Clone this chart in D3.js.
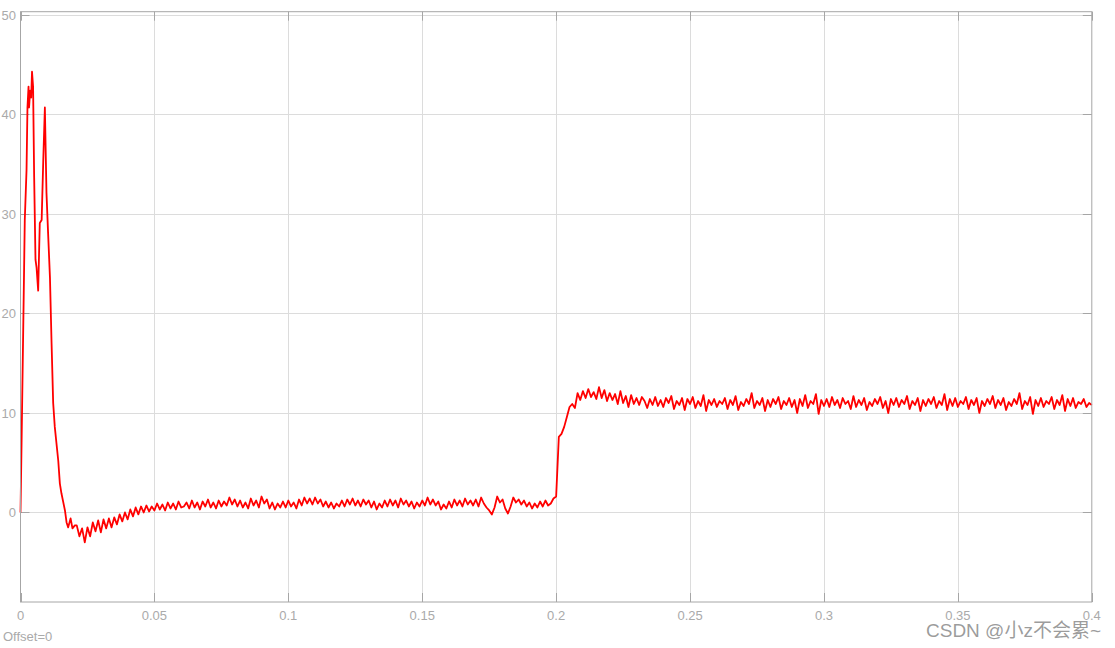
<!DOCTYPE html>
<html>
<head>
<meta charset="utf-8">
<script src="https://cdn.jsdelivr.net/npm/d3@7"></script>
<style>
  body { margin: 0; background: #fff; }
  svg { display: block; }
</style>
</head>
<body>
<svg id="chart"></svg>
<script>
// size of the page
var width = 1115;
var height = 648;

// axis ticks
var xTicks = [0, 0.05, 0.1, 0.15, 0.2, 0.25, 0.3, 0.35, 0.4];
var xTickLabels = ['0', '0.05', '0.1', '0.15', '0.2', '0.25', '0.3', '0.35', '0.4'];
var yTicks = [0, 10, 20, 30, 40, 50];
var yTickLabels = ['0', '10', '20', '30', '40', '50'];

// start-up transient
var startTimes = [0, 0.0004, 0.00135, 0.0016, 0.00225, 0.0026, 0.003, 0.0032, 0.0036, 0.004,
  0.0043, 0.0047, 0.0051, 0.0056, 0.006, 0.0066, 0.0072, 0.0079, 0.0085, 0.0091,
  0.0097, 0.0103, 0.011, 0.0116, 0.0122, 0.0128, 0.0141, 0.0147, 0.0153, 0.0166,
  0.0172, 0.0178, 0.0187, 0.0194, 0.0203];
var startValues = [0, 7, 24.6, 29.4, 34.4, 40.7, 42.8, 40.7, 42.4, 41.7,
  44.3, 42.8, 33.7, 25.4, 24.6, 22.3, 29.1, 29.4, 35.4, 40.7,
  32.1, 28.1, 23.6, 17, 11, 8.6, 5.2, 2.9, 1.9, 0.2,
  -1.0, -1.5, -0.6, -1.6, -1.3];

// the rest, one reading every millisecond from 0.021 s to 0.4 s
var rippleStart = 0.021;
var rippleStep = 0.001;
var rippleValues = [
  -1.3, -2.4, -1.6, -3.0, -1.5, -2.4, -1.0, -1.9, -0.8, -2.0,
  -0.7, -1.6, -0.6, -1.5, -0.5, -1.2, -0.2, -0.9, 0.0, -0.7,
  0.3, -0.4, 0.5, -0.2, 0.6, 0.0, 0.7, 0.1, 0.6, 0.2,
  0.9, 0.3, 0.8, 0.2, 1.0, 0.4, 0.9, 0.3, 1.1, 0.5,
  0.6, 1.0, 0.4, 1.2, 0.5, 1.0, 0.3, 1.1, 0.6, 1.3,
  0.5, 1.0, 0.4, 1.2, 0.6, 1.1, 0.7, 1.5, 0.8, 1.3,
  0.6, 1.2, 0.5, 1.0, 0.4, 1.4, 0.7, 1.2, 0.5, 1.6,
  0.9, 1.3, 0.4, 1.0, 0.3, 0.9, 0.5, 1.1, 0.5, 1.2,
  0.6, 1.0, 0.4, 1.3, 0.7, 1.5, 0.9, 1.4, 0.8, 1.5,
  0.9, 1.3, 0.6, 1.1, 0.5, 1.0, 0.4, 0.9, 0.6, 1.2,
  0.6, 1.3, 0.8, 1.4, 0.7, 1.2, 0.6, 1.3, 0.8, 1.2,
  0.5, 1.1, 0.3, 0.9, 0.5, 1.2, 0.6, 1.3, 0.7, 1.2,
  0.5, 1.4, 0.8, 1.2, 0.6, 1.1, 0.4, 1.0, 0.6, 1.2,
  0.7, 1.5, 0.8, 1.3, 0.7, 1.1, 0.3, 0.8, 0.4, 1.1,
  0.5, 1.3, 0.7, 1.2, 0.6, 1.4, 0.8, 1.2, 0.7, 1.3,
  0.6, 1.5, 0.9, 0.5, 0.2, -0.2, 0.5, 1.6, 1.0, 1.3,
  0.4, -0.1, 0.6, 1.5, 1.0, 1.3, 0.8, 1.2, 0.6, 1.0,
  0.4, 0.9, 0.5, 1.1, 0.6, 1.2, 0.7, 0.9, 1.4, 1.6,
  // 0.201 s: the step
  7.6, 7.9, 8.6, 9.6, 10.6, 10.9, 10.5, 12.0, 11.3, 12.2,
  11.5, 12.4, 11.6, 12.1, 11.4, 12.6, 11.5, 12.3, 11.2, 12.0,
  11.3, 11.9, 10.9, 12.2, 11.0, 11.7, 10.6, 11.8, 10.9, 11.5,
  10.8, 11.6, 11.2, 10.5, 11.4, 10.8, 11.6, 10.7, 11.3, 10.6,
  11.5, 11.0, 11.7, 10.4, 11.2, 10.8, 11.5, 10.3, 11.4, 10.9,
  11.6, 10.5, 11.2, 10.7, 11.8, 10.2, 11.3, 10.8, 11.4, 10.6,
  11.2, 10.9, 11.5, 10.4, 11.3, 10.8, 11.7, 10.3, 11.1, 10.7,
  11.4, 10.9, 12.0, 10.5, 11.2, 10.8, 11.5, 10.2, 11.3, 10.6,
  11.4, 10.9, 11.6, 10.4, 11.2, 10.8, 11.5, 10.6, 11.3, 10.0,
  11.4, 10.7, 11.8, 10.5, 11.2, 10.9, 11.9, 9.9, 11.3, 10.7,
  11.4, 10.6, 11.6, 10.8, 11.3, 10.5, 11.5, 10.9, 11.2, 10.4,
  11.7, 10.6, 11.3, 10.8, 11.5, 10.3, 11.1, 10.7, 11.4, 10.9,
  11.6, 10.5, 11.2, 10.0, 11.4, 10.8, 11.5, 10.6, 11.3, 10.9,
  11.7, 10.4, 11.2, 10.8, 11.5, 10.2, 11.3, 10.7, 11.4, 10.9,
  11.6, 10.5, 11.2, 10.8, 11.9, 10.3, 11.4, 10.7, 11.5, 10.6,
  11.2, 10.9, 11.6, 10.4, 11.3, 10.8, 11.5, 10.0, 11.2, 10.7,
  11.4, 10.9, 11.7, 10.5, 11.3, 10.8, 11.5, 10.3, 11.1, 10.7,
  11.4, 10.9, 12.0, 10.4, 11.2, 10.8, 11.6, 9.9, 11.3, 10.7,
  11.5, 10.6, 11.2, 10.9, 11.6, 10.4, 11.3, 10.8, 11.8, 10.2,
  11.4, 10.7, 11.5, 10.5, 11.1, 10.9, 11.4, 10.6, 11.0, 10.8
];

// join both parts into one list of points
var data = startTimes.map(function(t, i) {
  return { t: t, v: startValues[i] };
});
rippleValues.forEach(function(v, i) {
  data.push({ t: rippleStart + i * rippleStep, v: v });
});

var svg = d3.select('#chart')
  .attr('width', width)
  .attr('height', height);

// plot box edges (not named top/left: those clash with window.top)
var boxLeft = 20.5, boxRight = 1091.8, boxTop = 11.7, boxBottom = 602;

var x = d3.scaleLinear().domain([0, 0.4]).range([boxLeft, boxRight]);
var y = d3.scaleLinear().domain([-9, 50.33]).range([boxBottom, boxTop]);

var gridColor = '#dcdcdc';
var axisColor = '#a6a6a6';
var labelColor = '#aaaaaa';

// grid lines
svg.append('g')
  .selectAll('line')
  .data(xTicks.slice(1, -1))
  .join('line')
  .attr('x1', function(d) { return Math.round(x(d)) + 0.5; })
  .attr('x2', function(d) { return Math.round(x(d)) + 0.5; })
  .attr('y1', boxTop)
  .attr('y2', boxBottom)
  .attr('stroke', gridColor);

svg.append('g')
  .selectAll('line')
  .data(yTicks)
  .join('line')
  .attr('x1', boxLeft)
  .attr('x2', boxRight)
  .attr('y1', function(d) { return Math.round(y(d)) + 0.5; })
  .attr('y2', function(d) { return Math.round(y(d)) + 0.5; })
  .attr('stroke', gridColor);

// short inward tick marks on all four sides
var tickLen = 9;
var ticks = svg.append('g').attr('stroke', axisColor);
xTicks.forEach(function(d) {
  var px = Math.round(x(d)) + 0.5;
  ticks.append('line').attr('x1', px).attr('x2', px).attr('y1', boxBottom).attr('y2', boxBottom - tickLen);
  ticks.append('line').attr('x1', px).attr('x2', px).attr('y1', boxTop).attr('y2', boxTop + tickLen);
});
yTicks.forEach(function(d) {
  var py = Math.round(y(d)) + 0.5;
  ticks.append('line').attr('x1', boxLeft).attr('x2', boxLeft + tickLen).attr('y1', py).attr('y2', py);
  ticks.append('line').attr('x1', boxRight).attr('x2', boxRight - tickLen).attr('y1', py).attr('y2', py);
});

// the signal
var line = d3.line()
  .x(function(d) { return x(d.t); })
  .y(function(d) { return y(d.v); });

svg.append('path')
  .datum(data)
  .attr('d', line)
  .attr('fill', 'none')
  .attr('stroke', '#ff0000')
  .attr('stroke-width', 1.8)
  .attr('stroke-linejoin', 'round');

// box
svg.append('rect')
  .attr('x', boxLeft)
  .attr('y', boxTop)
  .attr('width', boxRight - boxLeft)
  .attr('height', boxBottom - boxTop)
  .attr('fill', 'none')
  .attr('stroke', axisColor);

// tick labels
svg.append('g')
  .selectAll('text')
  .data(xTicks)
  .join('text')
  .attr('x', function(d) { return x(d); })
  .attr('y', 620)
  .attr('text-anchor', 'middle')
  .attr('font-family', 'Arial, "Liberation Sans", sans-serif')
  .attr('font-size', 13)
  .attr('fill', labelColor)
  .text(function(d, i) { return xTickLabels[i]; });

svg.append('g')
  .selectAll('text')
  .data(yTicks)
  .join('text')
  .attr('x', 16)
  .attr('y', function(d) { return y(d) + 5; })
  .attr('text-anchor', 'end')
  .attr('font-family', 'Arial, "Liberation Sans", sans-serif')
  .attr('font-size', 13)
  .attr('fill', labelColor)
  .text(function(d, i) { return yTickLabels[i]; });

svg.append('text')
  .attr('x', 3)
  .attr('y', 641)
  .attr('font-family', 'Arial, "Liberation Sans", sans-serif')
  .attr('font-size', 13)
  .attr('fill', labelColor)
  .text('Offset=0');

// watermark
svg.append('text')
  .attr('x', 1101)
  .attr('y', 637)
  .attr('text-anchor', 'end')
  .attr('font-family', 'Arial, "Noto Sans CJK SC", sans-serif')
  .attr('font-size', 19)
  .attr('fill', '#8a8a8a')
  .attr('fill-opacity', 0.85)
  .text('CSDN @小z不会累~');
</script>
</body>
</html>
